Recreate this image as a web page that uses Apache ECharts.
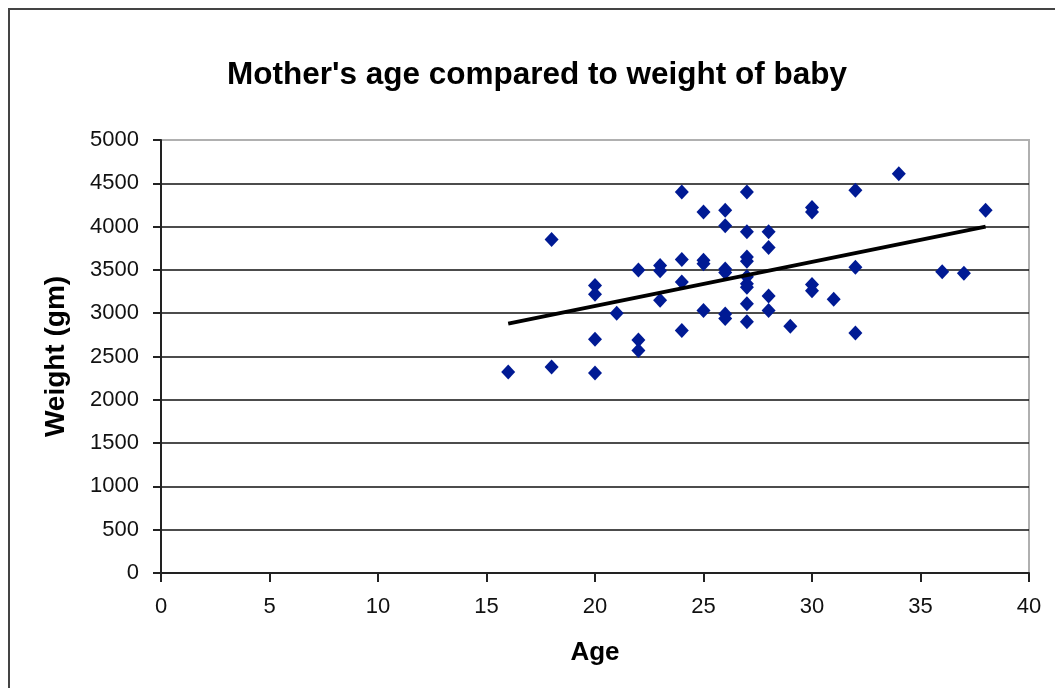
<!DOCTYPE html>
<html>
<head>
<meta charset="utf-8">
<script src="https://cdn.jsdelivr.net/npm/echarts@6/dist/echarts.min.js"></script>
<style>
html,body{margin:0;padding:0;background:#fff;}
#chart{width:1055px;height:688px;}
</style>
</head>
<body>
<div id="chart"></div>
<script>
var titleText = "Mother's age compared to weight of baby";
var xAxisName = "Age";
var yAxisName = "Weight (gm)";

var ages = [16, 18, 18, 20, 20, 20, 20, 21, 22, 22, 22, 23, 23, 23,
            24, 24, 24, 24, 25, 25, 25, 25, 26, 26, 26, 26, 26, 26,
            27, 27, 27, 27, 27, 27, 27, 27, 27, 28, 28, 28, 28, 29,
            30, 30, 30, 30, 31, 32, 32, 32, 34, 36, 37, 38];
var weights = [2320, 3850, 2380, 3320, 3220, 2700, 2310, 3000, 3500, 2690, 2570, 3550, 3490, 3150,
               4400, 3620, 3360, 2800, 4170, 3610, 3570, 3030, 4190, 4010, 3510, 3470, 2990, 2940,
               4400, 3940, 3650, 3600, 3420, 3340, 3300, 3110, 2900, 3940, 3760, 3200, 3030, 2850,
               4220, 4170, 3330, 3260, 3160, 4420, 3530, 2770, 4610, 3480, 3460, 4190];

var trendAges = [16, 38];
var trendWeights = [2880, 4000];

var xTicks = [0, 5, 10, 15, 20, 25, 30, 35, 40];
var yTicks = [0, 500, 1000, 1500, 2000, 2500, 3000, 3500, 4000, 4500, 5000];

var points = ages.map(function (a, i) { return [a, weights[i]]; });
var trend = trendAges.map(function (a, i) { return [a, trendWeights[i]]; });

var FONT = "'Liberation Sans', Arial, sans-serif";
var gridColors = yTicks.map(function (v, i) { return i === yTicks.length - 1 ? '#b0b0b0' : '#111'; });

var chart = echarts.init(document.getElementById('chart'), null, {renderer: 'canvas'});
chart.setOption({
  animation: false,
  backgroundColor: '#fff',
  title: {
    text: titleText,
    left: 532,
    textAlign: 'center',
    top: 54,
    textStyle: {fontFamily: FONT, fontSize: 31.5, fontWeight: 'bold', color: '#000'}
  },
  graphic: [{
    type: 'rect',
    shape: {x: 9, y: 9, width: 1100, height: 720},
    style: {fill: 'none', stroke: '#444', lineWidth: 2},
    silent: true,
    z: 0
  }],
  grid: {
    left: 161, right: 26, top: 140, bottom: 115,
    show: true, borderColor: '#b0b0b0', borderWidth: 2, backgroundColor: '#fff'
  },
  xAxis: {
    type: 'value',
    min: xTicks[0], max: xTicks[xTicks.length - 1], interval: 5,
    name: xAxisName,
    nameLocation: 'middle',
    nameGap: 67,
    nameTextStyle: {fontFamily: FONT, fontSize: 26, fontWeight: 'bold', color: '#000'},
    axisLine: {show: true, onZero: false, lineStyle: {color: '#222', width: 2}},
    axisTick: {show: true, inside: false, length: 9, lineStyle: {color: '#222', width: 2}},
    axisLabel: {fontFamily: FONT, fontSize: 22, color: '#111', margin: 23,
                formatter: function (v) { return String(v); }},
    splitLine: {show: false}
  },
  yAxis: {
    type: 'value',
    min: yTicks[0], max: yTicks[yTicks.length - 1], interval: 500,
    name: yAxisName,
    nameLocation: 'middle',
    nameRotate: 90,
    nameGap: 91,
    nameTextStyle: {fontFamily: FONT, fontSize: 28, fontWeight: 'bold', color: '#000'},
    axisLine: {show: true, onZero: false, lineStyle: {color: '#222', width: 2}},
    axisTick: {show: true, inside: false, length: 8, lineStyle: {color: '#222', width: 2}},
    axisLabel: {fontFamily: FONT, fontSize: 22, color: '#111', margin: 22,
                formatter: function (v) { return String(v); }},
    splitLine: {show: true, lineStyle: {color: gridColors, width: 1.5}}
  },
  series: [{
    type: 'scatter',
    data: points,
    symbol: 'diamond',
    symbolSize: [14, 15],
    itemStyle: {color: '#001a94', opacity: 1},
    z: 3
  }, {
    type: 'line',
    data: trend,
    showSymbol: false,
    symbol: 'none',
    lineStyle: {color: '#000', width: 4},
    z: 4
  }]
});
</script>
</body>
</html>
